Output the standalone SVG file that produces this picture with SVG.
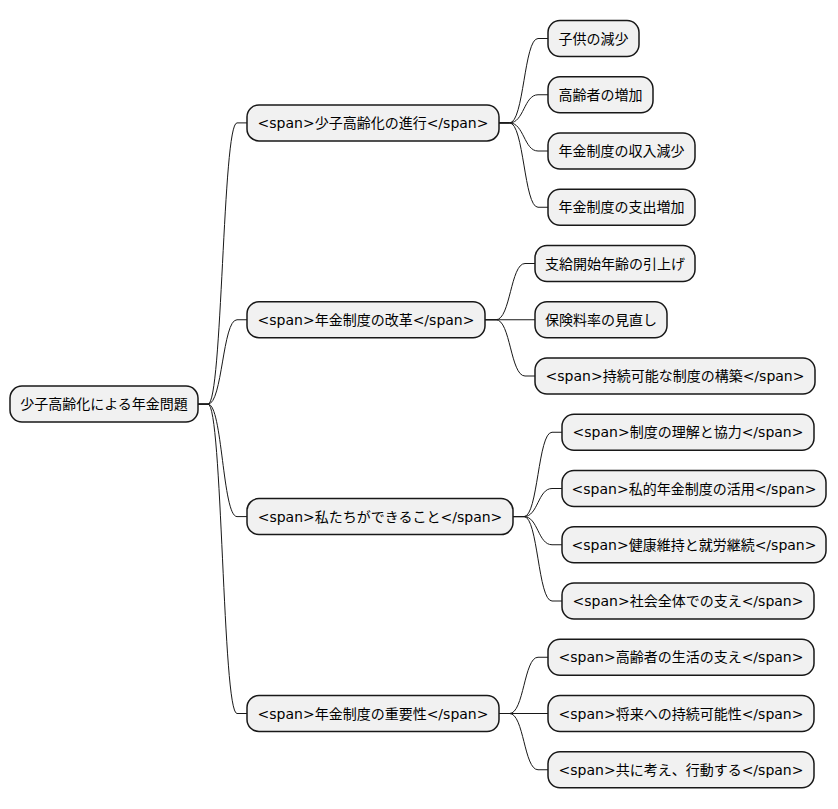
<svg xmlns="http://www.w3.org/2000/svg" width="838" height="809" viewBox="0 0 838 809">
<style>
.n rect{fill:#F1F1F1;stroke:#181818;stroke-width:1.5}
.n text{font-family:"DejaVu Sans","Noto Sans CJK JP",sans-serif;font-size:14px;fill:#000;text-anchor:middle}
#connectors path{fill:none;stroke:#181818;stroke-width:1}
</style>
<rect width="838" height="809" fill="#FFFFFF"/>
<g id="connectors">
<path d="M198,404.1 L208,404.1 C222.5,404.1 222.5,122.9 237,122.9 L247,122.9"/>
<path d="M198,404.1 L208,404.1 C222.5,404.1 222.5,319.75 237,319.75 L247,319.75"/>
<path d="M198,404.1 L208,404.1 C222.5,404.1 222.5,516.6 237,516.6 L247,516.6"/>
<path d="M198,404.1 L208,404.1 C222.5,404.1 222.5,713.5 237,713.5 L247,713.5"/>
<path d="M499,122.9 L509.5,122.9 C524,122.9 524,38.5 538,38.5 L548,38.5"/>
<path d="M499,122.9 L509.5,122.9 C524,122.9 524,94.75 538,94.75 L548,94.75"/>
<path d="M499,122.9 L509.5,122.9 C524,122.9 524,151 538,151 L548,151"/>
<path d="M499,122.9 L509.5,122.9 C524,122.9 524,207.25 538,207.25 L548,207.25"/>
<path d="M485,319.75 L496,319.75 C510.5,319.75 510.5,263.5 525,263.5 L535,263.5"/>
<path d="M485,319.75 L535,319.75"/>
<path d="M485,319.75 L496,319.75 C510.5,319.75 510.5,376 525,376 L535,376"/>
<path d="M513,516.6 L524,516.6 C538,516.6 538,432.25 552,432.25 L562,432.25"/>
<path d="M513,516.6 L524,516.6 C538,516.6 538,488.5 552,488.5 L562,488.5"/>
<path d="M513,516.6 L524,516.6 C538,516.6 538,544.75 552,544.75 L562,544.75"/>
<path d="M513,516.6 L524,516.6 C538,516.6 538,601 552,601 L562,601"/>
<path d="M499,713.5 L509.5,713.5 C524,713.5 524,657.25 538,657.25 L548,657.25"/>
<path d="M499,713.5 L548,713.5"/>
<path d="M499,713.5 L509.5,713.5 C524,713.5 524,769.75 538,769.75 L548,769.75"/>
</g>
<g id="root" class="n"><rect x="10" y="386.1" width="188" height="36" rx="12"/><text x="104" y="409.1">少子高齢化による年金問題</text></g>
<g id="n1" class="n"><rect x="247" y="104.9" width="252" height="36" rx="12"/><text x="373" y="127.9">&lt;span&gt;少子高齢化の進行&lt;/span&gt;</text></g>
<g id="n1a" class="n"><rect x="548" y="20.5" width="91" height="36" rx="12"/><text x="593.5" y="43.5">子供の減少</text></g>
<g id="n1b" class="n"><rect x="548" y="76.75" width="105" height="36" rx="12"/><text x="600.5" y="99.75">高齢者の増加</text></g>
<g id="n1c" class="n"><rect x="548" y="133" width="147" height="36" rx="12"/><text x="621.5" y="156">年金制度の収入減少</text></g>
<g id="n1d" class="n"><rect x="548" y="189.25" width="147" height="36" rx="12"/><text x="621.5" y="212.25">年金制度の支出増加</text></g>
<g id="n2" class="n"><rect x="247" y="301.75" width="238" height="36" rx="12"/><text x="366" y="324.75">&lt;span&gt;年金制度の改革&lt;/span&gt;</text></g>
<g id="n2a" class="n"><rect x="535" y="245.5" width="160" height="36" rx="12"/><text x="615" y="268.5">支給開始年齢の引上げ</text></g>
<g id="n2b" class="n"><rect x="535" y="301.75" width="132" height="36" rx="12"/><text x="601" y="324.75">保険料率の見直し</text></g>
<g id="n2c" class="n"><rect x="535" y="358" width="280" height="36" rx="12"/><text x="675" y="381">&lt;span&gt;持続可能な制度の構築&lt;/span&gt;</text></g>
<g id="n3" class="n"><rect x="247" y="498.6" width="266" height="36" rx="12"/><text x="380" y="521.6">&lt;span&gt;私たちができること&lt;/span&gt;</text></g>
<g id="n3a" class="n"><rect x="562" y="414.25" width="252" height="36" rx="12"/><text x="688" y="437.25">&lt;span&gt;制度の理解と協力&lt;/span&gt;</text></g>
<g id="n3b" class="n"><rect x="562" y="470.5" width="264" height="36" rx="12"/><text x="694" y="493.5">&lt;span&gt;私的年金制度の活用&lt;/span&gt;</text></g>
<g id="n3c" class="n"><rect x="562" y="526.75" width="264" height="36" rx="12"/><text x="694" y="549.75">&lt;span&gt;健康維持と就労継続&lt;/span&gt;</text></g>
<g id="n3d" class="n"><rect x="562" y="583" width="252" height="36" rx="12"/><text x="688" y="606">&lt;span&gt;社会全体での支え&lt;/span&gt;</text></g>
<g id="n4" class="n"><rect x="247" y="695.5" width="252" height="36" rx="12"/><text x="373" y="718.5">&lt;span&gt;年金制度の重要性&lt;/span&gt;</text></g>
<g id="n4a" class="n"><rect x="548" y="639.25" width="266" height="36" rx="12"/><text x="681" y="662.25">&lt;span&gt;高齢者の生活の支え&lt;/span&gt;</text></g>
<g id="n4b" class="n"><rect x="548" y="695.5" width="266" height="36" rx="12"/><text x="681" y="718.5">&lt;span&gt;将来への持続可能性&lt;/span&gt;</text></g>
<g id="n4c" class="n"><rect x="548" y="751.75" width="266" height="36" rx="12"/><text x="681" y="774.75">&lt;span&gt;共に考え、行動する&lt;/span&gt;</text></g>
</svg>
